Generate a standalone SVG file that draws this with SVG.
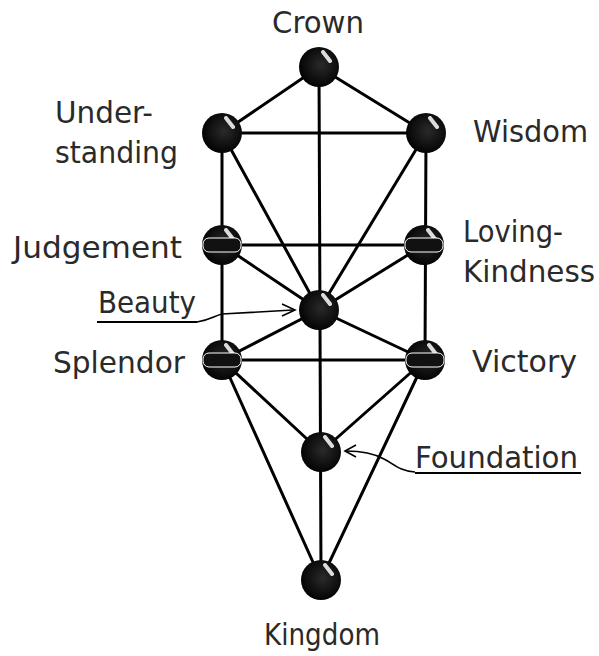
<svg xmlns="http://www.w3.org/2000/svg" width="599" height="656" viewBox="0 0 599 656">
<style>
.e{stroke:#000;stroke-width:3;fill:none;stroke-linecap:round}
.t{font-family:"DejaVu Sans","Liberation Sans",Arial,sans-serif;font-size:30px;fill:#2a2a2a}
.a{stroke:#000;stroke-width:1.6;fill:none}
.u{stroke:#000;stroke-width:2}
</style>
<defs>
<radialGradient id="g" cx="0.55" cy="0.45" r="0.6">
<stop offset="0" stop-color="#2a2a2a"/>
<stop offset="1" stop-color="#000"/>
</radialGradient>
<g id="n">
<circle r="20" fill="url(#g)"/>
<path d="M4,-15 L11,-6" stroke="#fff" stroke-width="4" stroke-linecap="round" opacity="0.85"/>
</g>
<g id="nb">
<circle r="20" fill="url(#g)"/>
<path d="M4,-15 L11,-6" stroke="#fff" stroke-width="4" stroke-linecap="round" opacity="0.85"/>
<rect x="-19" y="-7" width="38" height="14" rx="6" fill="#111" stroke="#fff" stroke-width="1"/>
</g>
</defs>
<rect width="599" height="656" fill="#fff"/>
<g id="connectors">
<line class="e" x1="319" y1="67" x2="321" y2="580"/>
<line class="e" x1="319" y1="67" x2="222" y2="133"/>
<line class="e" x1="319" y1="67" x2="426" y2="133"/>
<line class="e" x1="222" y1="133" x2="426" y2="133"/>
<line class="e" x1="222" y1="133" x2="222" y2="360"/>
<line class="e" x1="426" y1="133" x2="425" y2="360"/>
<line class="e" x1="222" y1="133" x2="319" y2="310"/>
<line class="e" x1="426" y1="133" x2="319" y2="310"/>
<line class="e" x1="222" y1="245" x2="424" y2="245"/>
<line class="e" x1="222" y1="245" x2="319" y2="310"/>
<line class="e" x1="424" y1="245" x2="319" y2="310"/>
<line class="e" x1="319" y1="310" x2="222" y2="360"/>
<line class="e" x1="319" y1="310" x2="425" y2="360"/>
<line class="e" x1="222" y1="360" x2="425" y2="360"/>
<line class="e" x1="222" y1="360" x2="321" y2="452"/>
<line class="e" x1="425" y1="360" x2="321" y2="452"/>
<line class="e" x1="222" y1="360" x2="321" y2="580"/>
<line class="e" x1="425" y1="360" x2="321" y2="580"/>
<path class="a" d="M197,322 C210,320 214,316 222,314 L293,310"/>
<path class="a" d="M282,304 L295,310 L282,316"/>
<path class="a" d="M415,472 C400,471 395,465 384,459 C375,454 360,451 346,451"/>
<path class="a" d="M356,445 L345,451 L356,457"/>
</g>
<g id="crown"><use href="#n" x="319" y="67"/><text class="t" x="272" y="33" textLength="92" lengthAdjust="spacingAndGlyphs">Crown</text></g>
<g id="understanding"><use href="#n" x="222" y="133"/><text class="t" x="55" y="123" textLength="98" lengthAdjust="spacingAndGlyphs">Under-</text><text class="t" x="55" y="163" textLength="123" lengthAdjust="spacingAndGlyphs">standing</text></g>
<g id="wisdom"><use href="#n" x="426" y="133"/><text class="t" x="473" y="142" textLength="115" lengthAdjust="spacingAndGlyphs">Wisdom</text></g>
<g id="judgement"><use href="#nb" x="222" y="245"/><text class="t" x="13" y="258" textLength="169" lengthAdjust="spacingAndGlyphs">Judgement</text></g>
<g id="loving-kindness"><use href="#nb" x="424" y="245"/><text class="t" x="463" y="242" textLength="100" lengthAdjust="spacingAndGlyphs">Loving-</text><text class="t" x="463" y="282" textLength="132" lengthAdjust="spacingAndGlyphs">Kindness</text></g>
<g id="beauty"><use href="#n" x="319" y="310"/><text class="t" x="98" y="313" textLength="98" lengthAdjust="spacingAndGlyphs">Beauty</text><line class="u" x1="97" y1="322" x2="197" y2="322"/></g>
<g id="splendor"><use href="#nb" x="222" y="360"/><text class="t" x="53" y="373" textLength="132" lengthAdjust="spacingAndGlyphs">Splendor</text></g>
<g id="victory"><use href="#nb" x="425" y="360"/><text class="t" x="472" y="372" textLength="105" lengthAdjust="spacingAndGlyphs">Victory</text></g>
<g id="foundation"><use href="#n" x="321" y="452"/><text class="t" x="415" y="468" textLength="163" lengthAdjust="spacingAndGlyphs">Foundation</text><line class="u" x1="415" y1="473" x2="581" y2="473"/></g>
<g id="kingdom"><use href="#n" x="321" y="580"/><text class="t" x="264" y="645" textLength="116" lengthAdjust="spacingAndGlyphs">Kingdom</text></g>
</svg>
